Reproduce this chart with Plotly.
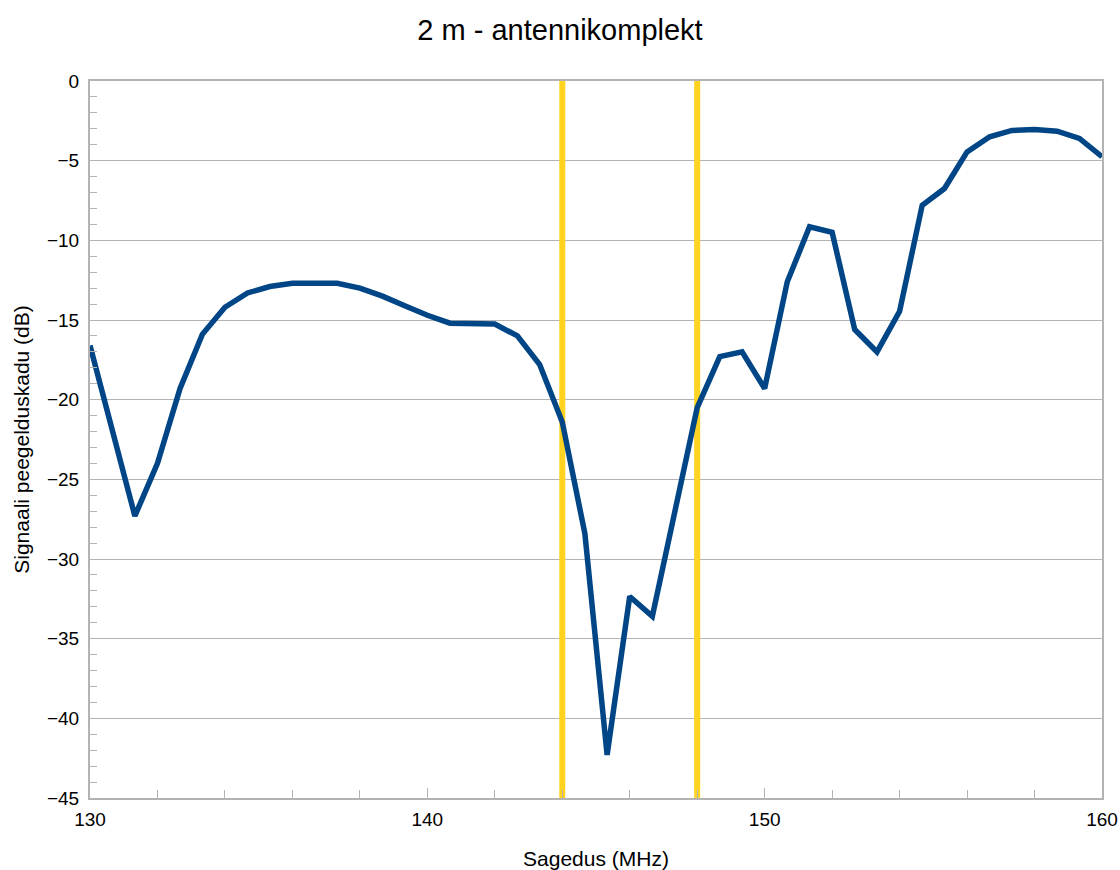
import plotly.graph_objects as go

# Frequency (MHz) sampled across the 2 m band
freq_mhz = [130.00, 130.67, 131.33, 132.00, 132.67, 133.33, 134.00, 134.67, 135.33, 136.00,
            136.67, 137.33, 138.00, 138.67, 139.33, 140.00, 140.67, 141.33, 142.00, 142.67,
            143.33, 144.00, 144.67, 145.33, 146.00, 146.67, 147.33, 148.00, 148.67, 149.33,
            150.00, 150.67, 151.33, 152.00, 152.67, 153.33, 154.00, 154.67, 155.33, 156.00,
            156.67, 157.33, 158.00, 158.67, 159.33, 160.00]

# Return loss (dB)
return_loss_db = [-16.6, -21.9, -27.3, -24.0, -19.3, -15.9, -14.2, -13.3, -12.9, -12.7,
                  -12.7, -12.7, -13.0, -13.5, -14.1, -14.7, -15.2, -15.2, -15.25, -16.0,
                  -17.8, -21.4, -28.4, -42.3, -32.35, -33.6, -27.0, -20.5, -17.3, -17.0,
                  -19.3, -12.6, -9.15, -9.5, -15.6, -17.0, -14.45, -7.8, -6.75, -4.45,
                  -3.5, -3.1, -3.05, -3.15, -3.6, -4.75]

# Band edge markers (MHz)
band_edges = [144, 148]
band_y = [0, -45]

x_tick_vals = [130, 140, 150, 160]
y_tick_vals = [0, -5, -10, -15, -20, -25, -30, -35, -40, -45]

FONT = "Liberation Sans"
GRAY = "#b3b3b3"

fig = go.Figure()

for edge in band_edges:
    fig.add_trace(go.Scatter(
        x=[edge, edge], y=band_y, mode="lines",
        line=dict(color="#ffd320", width=6),
        showlegend=False, hoverinfo="skip"))

fig.add_trace(go.Scatter(
    x=freq_mhz, y=return_loss_db, mode="lines",
    line=dict(color="#004586", width=5.5),
    showlegend=False))

fig.update_layout(
    width=1120, height=870,
    margin=dict(l=90, r=18, t=81, b=72, autoexpand=False),
    paper_bgcolor="white", plot_bgcolor="white",
    font=dict(family=FONT, color="black"),
    title=dict(text="2 m - antennikomplekt", x=0.5, xanchor="center",
               y=1 - 30 / 870, yanchor="middle",
               font=dict(family=FONT, size=29, color="black")),
    xaxis=dict(
        range=[130, 160], tickvals=x_tick_vals, automargin=False,
        ticks="inside", ticklen=10, tickcolor=GRAY, tickwidth=1,
        minor=dict(dtick=2, tick0=130, ticks="inside", ticklen=8, tickcolor=GRAY, showgrid=False),
        showgrid=False, zeroline=False,
        showline=True, linecolor=GRAY, linewidth=2, mirror=True,
        ticklabelstandoff=3,
        tickfont=dict(family=FONT, size=19, color="black"),
        title=dict(text="Sagedus (MHz)", standoff=36,
                   font=dict(family=FONT, size=21, color="black")),
    ),
    yaxis=dict(
        range=[-45, 0], tickvals=y_tick_vals, automargin=False,
        ticks="inside", ticklen=7, tickcolor=GRAY, tickwidth=1,
        minor=dict(dtick=1, tick0=0, ticks="inside", ticklen=7, tickcolor=GRAY, showgrid=False),
        showgrid=True, gridcolor=GRAY, gridwidth=1, zeroline=False,
        showline=True, linecolor=GRAY, linewidth=2, mirror=True,
        ticklabelstandoff=5,
        tickfont=dict(family=FONT, size=19, color="black"),
        title=dict(text="Signaali peegelduskadu (dB)", standoff=12,
                   font=dict(family=FONT, size=21, color="black")),
    ),
)

fig.write_html("out.html")
